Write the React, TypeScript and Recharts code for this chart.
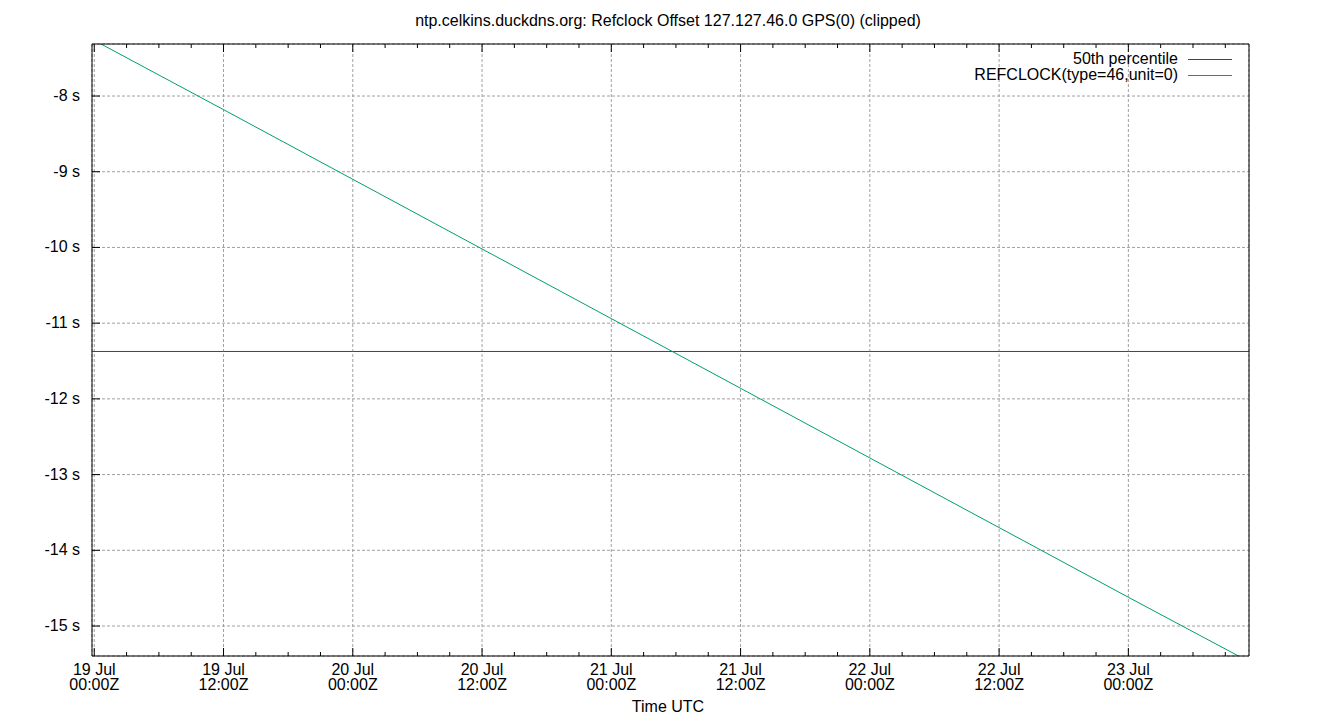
import React from "react";
import {
  LineChart,
  Line,
  XAxis,
  YAxis,
  CartesianGrid,
  Legend,
} from "recharts";

// hours since 19 Jul 00:00Z
const hours = [-0.2, 12, 24, 36, 48, 60, 72, 84, 96, 107.2];
const refclock = [-7.25, -8.18, -9.1, -10.02, -10.94, -11.86, -12.78, -13.7, -14.62, -15.47];
const p50 = [-11.374, -11.374, -11.374, -11.374, -11.374, -11.374, -11.374, -11.374, -11.374, -11.374];

const majorHours = [0, 12, 24, 36, 48, 60, 72, 84, 96];
const minorHours = [3, 6, 9, 15, 18, 21, 27, 30, 33, 39, 42, 45, 51, 54, 57, 63, 66, 69, 75, 78, 81, 87, 90, 93, 99, 102, 105];
const dayLabels = ["19 Jul", "19 Jul", "20 Jul", "20 Jul", "21 Jul", "21 Jul", "22 Jul", "22 Jul", "23 Jul"];
const timeLabels = ["00:00Z", "12:00Z", "00:00Z", "12:00Z", "00:00Z", "12:00Z", "00:00Z", "12:00Z", "00:00Z"];
const yTicks = [-8, -9, -10, -11, -12, -13, -14, -15];

const data = hours.map((h, i) => ({ h, ref: refclock[i], p50: p50[i] }));
const allXTicks = [...majorHours, ...minorHours].sort((a, b) => a - b);

const FONT = "'Liberation Sans', Arial, sans-serif";
const FS = 16;
const P50_NAME = "50th percentile";
const REF_NAME = "REFCLOCK(type=46,unit=0)";
const colors: Record<string, string> = {
  [P50_NAME]: "#9400d3",
  [REF_NAME]: "#009e73",
};

function BottomTick({ x, y, payload }: any) {
  const i = majorHours.indexOf(payload.value);
  const major = i >= 0;
  return (
    <g>
      <line x1={x} x2={x} y1={y} y2={y - (major ? 8 : 4)} stroke="#000" />
      {major && (
        <text x={x} y={y + 19} textAnchor="middle" fontSize={FS} fontFamily={FONT} fill="#000">
          <tspan x={x}>{dayLabels[i]}</tspan>
          <tspan x={x} dy={15}>{timeLabels[i]}</tspan>
        </text>
      )}
    </g>
  );
}

function TopTick({ x, y, payload }: any) {
  const major = majorHours.includes(payload.value);
  return <line x1={x} x2={x} y1={y} y2={y + (major ? 8 : 4)} stroke="#000" />;
}

function LeftTick({ x, y, payload }: any) {
  return (
    <g>
      <line x1={x} x2={x + 8} y1={y} y2={y} stroke="#000" />
      <text x={x - 12} y={y + 5} textAnchor="end" fontSize={FS} fontFamily={FONT} fill="#000">
        {`${payload.value} s`}
      </text>
    </g>
  );
}

function LegendBox({ payload }: any) {
  return (
    <div style={{ fontFamily: FONT, fontSize: FS, color: "#000", lineHeight: "16px" }}>
      {(payload || []).map((p: any) => (
        <div key={p.value} style={{ display: "flex", alignItems: "center", justifyContent: "flex-end", height: 16 }}>
          <span style={{ whiteSpace: "nowrap" }}>{p.value}</span>
          <svg width={44} height={4} style={{ display: "block", marginLeft: 10 }}>
            <line x1={0} x2={44} y1={2.5} y2={2.5} stroke={colors[p.value] ?? p.color} strokeWidth={1} />
          </svg>
        </div>
      ))}
    </div>
  );
}

export default function App() {
  return (
    <div style={{ position: "absolute", left: 0, top: 0, width: 1340, height: 720, background: "#fff" }}>
      <LineChart
        width={1340}
        height={720}
        data={data}
        margin={{ top: 43, right: 90, bottom: 63, left: 91 }}
      >
        <text x={668} y={26} textAnchor="middle" fontSize={FS} fontFamily={FONT} fill="#000">
          ntp.celkins.duckdns.org: Refclock Offset 127.127.46.0 GPS(0) (clipped)
        </text>
        <text x={668} y={712} textAnchor="middle" fontSize={FS} fontFamily={FONT} fill="#000">
          Time UTC
        </text>
        <CartesianGrid xAxisId="grid" stroke="#a0a0a0" strokeDasharray="3 2" />
        <XAxis
          dataKey="h"
          type="number"
          domain={[-0.21, 107.2]}
          ticks={allXTicks}
          interval={0}
          height={1}
          tickSize={0}
          tickMargin={0}
          tickLine={false}
          axisLine={{ stroke: "#000" }}
          tick={<BottomTick />}
          allowDataOverflow
        />
        <XAxis
          xAxisId="top"
          orientation="top"
          dataKey="h"
          type="number"
          domain={[-0.21, 107.2]}
          ticks={allXTicks}
          interval={0}
          height={1}
          tickSize={0}
          tickMargin={0}
          tickLine={false}
          axisLine={{ stroke: "#000" }}
          tick={<TopTick />}
          allowDataOverflow
        />
        <XAxis
          xAxisId="grid"
          dataKey="h"
          type="number"
          domain={[-0.21, 107.2]}
          ticks={majorHours}
          interval={0}
          hide
          allowDataOverflow
        />
        <YAxis
          type="number"
          domain={[-15.396, -7.313]}
          ticks={yTicks}
          interval={0}
          width={1}
          tickSize={0}
          tickMargin={0}
          tickLine={false}
          axisLine={{ stroke: "#000" }}
          tick={<LeftTick />}
          allowDataOverflow
        />
        <YAxis
          yAxisId="right"
          orientation="right"
          type="number"
          domain={[-15.396, -7.313]}
          width={1}
          tick={false}
          tickLine={false}
          axisLine={{ stroke: "#000" }}
          allowDataOverflow
        />
        <Legend
          layout="vertical"
          align="center"
          verticalAlign="middle"
          content={<LegendBox />}
          wrapperStyle={{ left: 880, top: 51, width: 352, right: "auto", bottom: "auto" }}
        />
        <Line
          dataKey="p50"
          name={P50_NAME}
          stroke={colors[P50_NAME]}
          strokeWidth={1}
          dot={false}
          isAnimationActive={false}
        />
        <Line
          dataKey="ref"
          name={REF_NAME}
          stroke={colors[REF_NAME]}
          strokeWidth={1}
          dot={false}
          isAnimationActive={false}
        />
      </LineChart>
    </div>
  );
}
